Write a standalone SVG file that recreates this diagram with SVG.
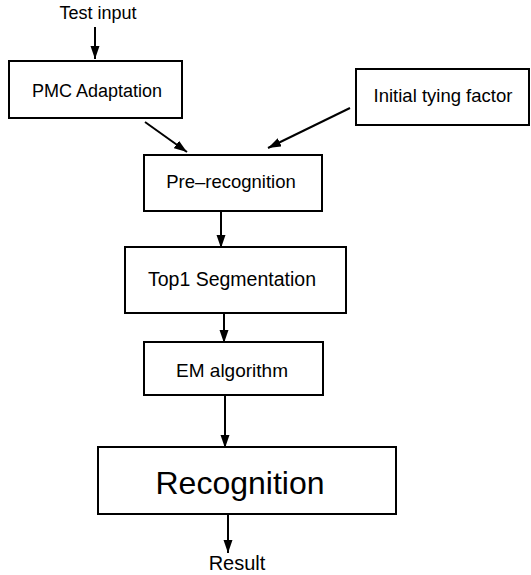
<svg xmlns="http://www.w3.org/2000/svg" width="531" height="575" viewBox="0 0 531 575">
<style>
.box{fill:#fff;stroke:#000;stroke-width:2}
.t{font-family:"Liberation Sans",Arial,sans-serif;fill:#000;text-anchor:middle}
.c{stroke:#000;stroke-width:2;fill:none;marker-end:url(#ah)}
</style>
<defs>
<marker id="ah" markerUnits="userSpaceOnUse" markerWidth="14" markerHeight="10" refX="13" refY="4.5" orient="auto">
<path d="M0,0 L13,4.5 L0,9 z" fill="#000"/>
</marker>
</defs>
<rect width="531" height="575" fill="#fff"/>
<g id="connectors">
<line class="c" x1="95" y1="27" x2="95" y2="59"/>
<line class="c" x1="145" y1="122" x2="187" y2="152"/>
<line class="c" x1="350" y1="108" x2="268" y2="148"/>
<line class="c" x1="221" y1="212" x2="221" y2="248"/>
<line class="c" x1="224" y1="313" x2="224" y2="343"/>
<line class="c" x1="225" y1="394" x2="225" y2="448"/>
<line class="c" x1="228" y1="514" x2="228" y2="553"/>
</g>
<g id="test-input"><text class="t" x="98" y="19" font-size="18">Test input</text></g>
<g id="pmc"><rect class="box" x="9" y="61" width="173" height="57"/><text class="t" x="97" y="97" font-size="18">PMC Adaptation</text></g>
<g id="tying"><rect class="box" x="356" y="69" width="173" height="56"/><text class="t" x="443" y="102" font-size="18.5">Initial tying factor</text></g>
<g id="prerec"><rect class="box" x="144" y="155" width="178" height="56"/><text class="t" x="231" y="188" font-size="18.5">Pre–recognition</text></g>
<g id="top1"><rect class="box" x="125" y="247" width="221" height="66"/><text class="t" x="232" y="286" font-size="19.5">Top1 Segmentation</text></g>
<g id="em"><rect class="box" x="144" y="342" width="179" height="53"/><text class="t" x="232" y="377" font-size="19">EM algorithm</text></g>
<g id="recognition"><rect class="box" x="98" y="447" width="298" height="67"/><text class="t" x="240" y="494" font-size="32">Recognition</text></g>
<g id="result"><text class="t" x="237" y="570" font-size="20">Result</text></g>
</svg>
